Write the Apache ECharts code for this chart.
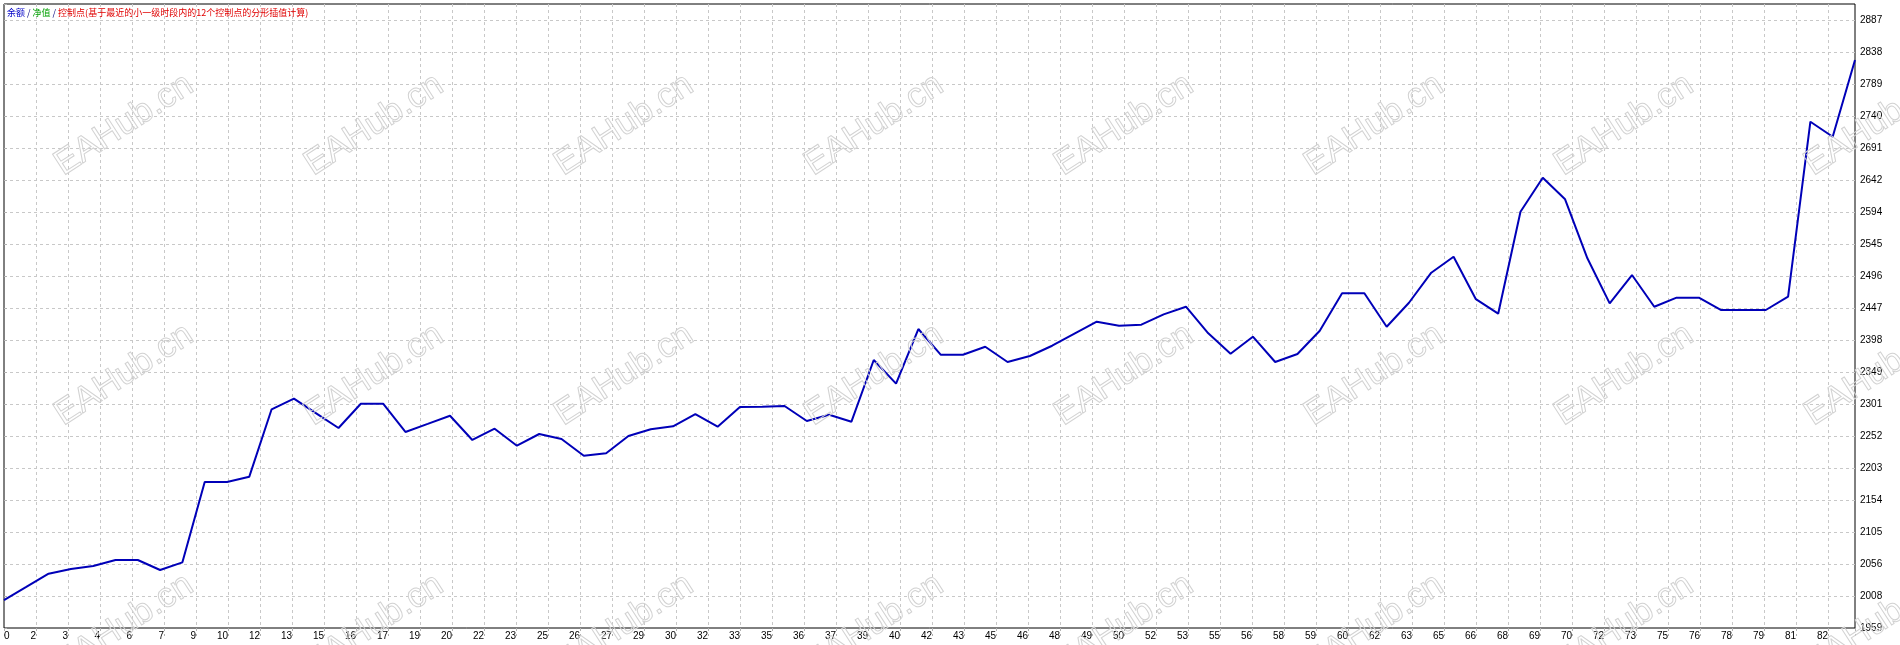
<!DOCTYPE html>
<html>
<head>
<meta charset="utf-8">
<script src="https://cdn.jsdelivr.net/npm/echarts@6/dist/echarts.min.js"></script>
<style>
html,body{margin:0;padding:0;background:#fff;}
#chart{width:1900px;height:645px;}
</style>
</head>
<body>
<div id="chart"></div>
<script>
// ---- data ----
const balance = [
  2002.0, 2021.9, 2042.2, 2049.3, 2053.9, 2063.1, 2063.1, 2047.8, 2059.5, 2182.1,
  2182.1, 2190.2, 2293.0, 2309.2, 2286.9, 2264.5, 2301.5, 2301.5, 2258.4, 2270.7,
  2283.2, 2246.2, 2263.4, 2237.5, 2255.3, 2247.7, 2222.2, 2225.9, 2252.3, 2262.5,
  2267.1, 2285.8, 2266.4, 2296.5, 2297.0, 2298.0, 2275.1, 2284.8, 2274.1, 2368.2,
  2332.1, 2415.5, 2376.3, 2376.3, 2388.5, 2365.2, 2374.3, 2390.0, 2408.3, 2426.7,
  2420.6, 2422.1, 2437.9, 2449.5, 2408.9, 2377.8, 2403.8, 2365.2, 2377.4, 2412.9,
  2470.0, 2470.0, 2419.0, 2455.6, 2501.4, 2525.8, 2461.0, 2438.9, 2594.5, 2646.4,
  2613.4, 2523.4, 2454.7, 2497.9, 2449.5, 2463.3, 2463.3, 2444.5, 2444.5, 2444.5,
  2464.8, 2731.8, 2708.9, 2826.0
];
const xTickLabels = ['0','2','3','4','6','7','9','10','12','13','15','16','17','19','20','22','23','25','26','27',
  '29','30','32','33','35','36','37','39','40','42','43','45','46','48','49','50','52','53','55','56',
  '58','59','60','62','63','65','66','68','69','70','72','73','75','76','78','79','81','82'];
const yTickLabels = ['1959','2008','2056','2105','2154','2203','2252','2301','2349','2398',
  '2447','2496','2545','2594','2642','2691','2740','2789','2838','2887'];
const legendParts = ['余额', '净值', '控制点(基于最近的小一级时段内的12个控制点的分形插值计算)'];
const watermarkText = 'EAHub.cn';

// ---- chart ----
const chart = echarts.init(document.getElementById('chart'), null, {renderer: 'canvas'});
const yMin = 1959.3, yStep = 48.826;
const gridW = 1851, gridH = 624, cell = 32;

const wm = [];
for (let r = 0; r < 3; r++) {
  for (let c = 0; c < 8; c++) {
    wm.push({
      type: 'text',
      x: 124 + 250 * c,
      y: 125 + 250 * r,
      rotation: 33 * Math.PI / 180,
      z: 100,
      silent: true,
      style: {
        text: watermarkText,
        fontSize: 35,
        fontFamily: 'Liberation Sans',
        fill: 'rgba(0,0,0,0)',
        stroke: '#d2d2d2',
        lineWidth: 1,
        align: 'center',
        verticalAlign: 'middle'
      }
    });
  }
}

const option = {
  animation: false,
  backgroundColor: '#fff',
  grid: {
    left: 4, top: 4, width: gridW, height: gridH,
    show: true, borderColor: '#000', borderWidth: 1, backgroundColor: '#fff'
  },
  xAxis: [
    {type: 'value', min: 0, max: balance.length - 1, show: false},
    {
      type: 'value', min: 0, max: gridW / cell, interval: 1, position: 'bottom',
      axisLine: {show: false},
      axisTick: {show: true, length: 8, lineStyle: {color: '#b0b0b0', type: [3, 3]}},
      axisLabel: {
        show: true, margin: 3, align: 'right', alignMinLabel: 'left', showMaxLabel: true,
        fontFamily: 'Liberation Sans', fontSize: 10, color: '#000',
        formatter: v => (Number.isInteger(v) && xTickLabels[v] !== undefined) ? xTickLabels[v] : ''
      },
      splitLine: {show: true, showMinLine: false, showMaxLine: false,
        lineStyle: {color: '#c8c8c8', width: 1, type: [3, 3]}}
    }
  ],
  yAxis: [
    {type: 'value', min: yMin, max: yMin + yStep * (gridH / cell), show: false},
    {
      type: 'value', min: 0, max: gridH / cell, interval: 1, position: 'right',
      axisLine: {show: false},
      axisTick: {show: true, length: 3, lineStyle: {color: '#b0b0b0'}},
      axisLabel: {
        show: true, margin: 5, fontFamily: 'Liberation Sans', fontSize: 10, color: '#000',
        formatter: v => (Number.isInteger(v) && yTickLabels[v] !== undefined) ? yTickLabels[v] : ''
      },
      splitLine: {show: true, showMinLine: false, showMaxLine: false,
        lineStyle: {color: '#c8c8c8', width: 1, type: [3, 3]}}
    }
  ],
  graphic: [
    {
      type: 'text', left: 7, top: 8, z: 50,
      style: {
        text: '{b|' + legendParts[0] + '}{k| / }{g|' + legendParts[1] + '}{k| / }{r|' + legendParts[2] + '}',
        fontFamily: 'Noto Sans CJK SC', fontSize: 9,
        rich: {
          b: {fill: '#0000c8', fontFamily: 'Noto Sans CJK SC', fontSize: 9},
          g: {fill: '#00a000', fontFamily: 'Noto Sans CJK SC', fontSize: 9},
          r: {fill: '#e00000', fontFamily: 'Noto Sans CJK SC', fontSize: 9},
          k: {fill: '#000080', fontFamily: 'Noto Sans CJK SC', fontSize: 9}
        }
      }
    }
  ].concat(wm),
  series: [{
    type: 'line',
    xAxisIndex: 0, yAxisIndex: 0,
    data: balance.map((v, i) => [i, v]),
    symbol: 'none',
    smooth: false,
    lineStyle: {color: '#0000b8', width: 2},
    z: 10
  }]
};
chart.setOption(option);
</script>
</body>
</html>
